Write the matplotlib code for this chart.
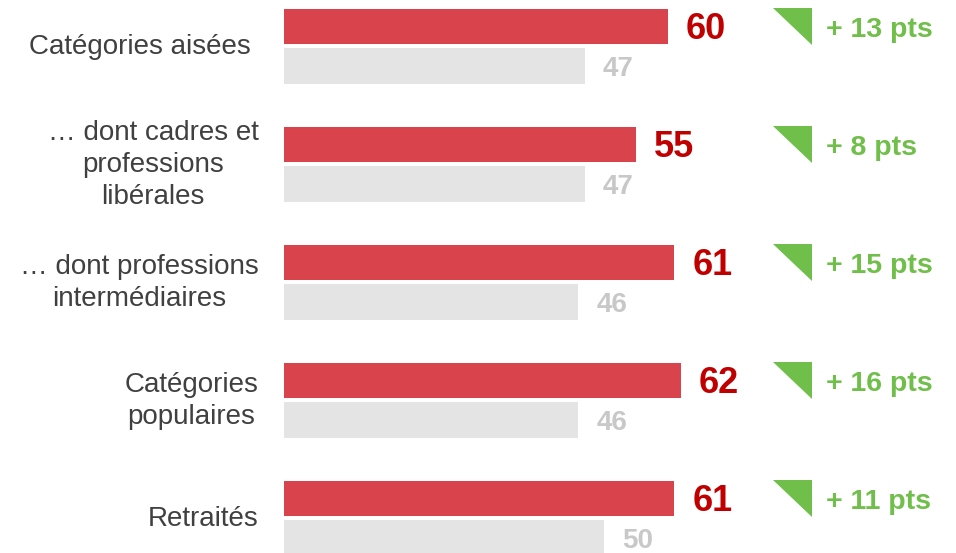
import matplotlib.pyplot as plt
from matplotlib.patches import Polygon

plt.rcParams['font.family'] = ['Liberation Sans', 'DejaVu Sans']

## Data ##
categories = ["Catégories aisées",
              "… dont cadres et\nprofessions\nlibérales",
              "… dont professions\nintermédiaires",
              "Catégories\npopulaires",
              "Retraités"]
current = [60, 55, 61, 62, 61]
previous = [47, 47, 46, 46, 50]
deltas = ["+ 13 pts", "+ 8 pts", "+ 15 pts", "+ 16 pts", "+ 11 pts"]

red = '#D9444C'
grey = '#E4E4E4'
green = '#70BF4B'

fig = plt.figure(figsize=(9.56, 5.53), dpi=100)
ax = fig.add_axes([0, 0, 1, 1])
ax.set_xlim(-44.375, 105)
ax.set_ylim(4.294, -0.392)
ax.axis('off')

off = 0.167
h = 0.30
dy = 0.025  # small nudge so text sits like in the original
for i, (cat, cur, prev, d) in enumerate(zip(categories, current, previous, deltas)):
    ax.barh(i - off, cur, height=h, color=red)
    ax.barh(i + off, prev, height=h, color=grey)
    ax.text(cur + 2.8, i - off + dy, str(cur), ha='left', va='center',
            fontsize=26, fontweight='bold', color='#C00000')
    ax.text(prev + 2.8, i + off + dy, str(prev), ha='left', va='center',
            fontsize=20, fontweight='bold', color='#C8C8C8')
    xr = -5.2 if i == 0 else -4.0
    ax.text(xr, i + 0.01, cat, ha='right', va='center', multialignment='center',
            fontsize=20, color='#404040', linespacing=1.3)
    # green down-triangle marker
    tri = Polygon([(76.4, i - off - 0.16), (82.5, i - off - 0.16), (82.5, i - off + 0.16)],
                  closed=True, color=green, lw=0)
    ax.add_patch(tri)
    ax.text(84.7, i - off + dy, d, ha='left', va='center',
            fontsize=20.5, fontweight='bold', color=green)

fig.savefig('out.png', dpi=100)
